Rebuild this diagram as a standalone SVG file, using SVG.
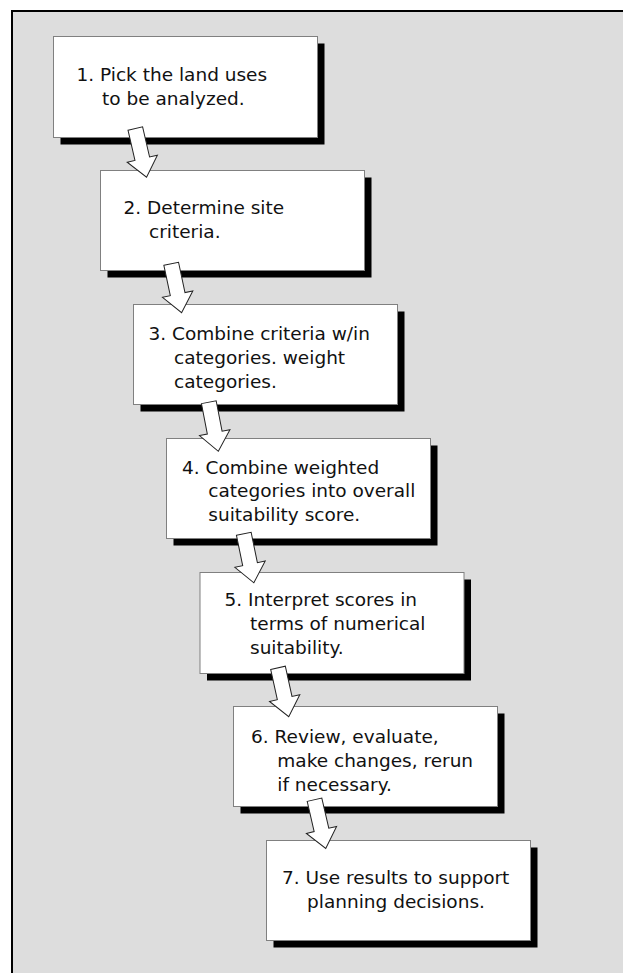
<svg xmlns="http://www.w3.org/2000/svg" width="623" height="973" viewBox="0 0 623 973">
<style>
.box{fill:#ffffff;stroke:#808080;stroke-width:1}
.shadow{fill:#000000}
.t{font-family:"DejaVu Sans","Verdana",sans-serif;font-size:18.5px;fill:#111111}
.arrow{fill:#ffffff;stroke:#222222;stroke-width:1;stroke-linejoin:miter}
</style>
<defs>
<path id="arr" d="M-7.5,0 L7.5,0 L7.5,31 L15.5,31 L0,50 L-15.5,31 L-7.5,31 Z"/>
</defs>
<rect x="0" y="0" width="623" height="973" fill="#ffffff"/>
<rect x="12" y="11" width="700" height="1000" fill="#dddddd" stroke="#000000" stroke-width="2"/>
<g id="nodes">
<g id="step1">
<rect class="shadow" x="60.5" y="43.5" width="264" height="101"/>
<rect class="box" x="53.5" y="36.5" width="264" height="101"/>
<text class="t"><tspan x="76.5" y="81">1. Pick the land uses</tspan><tspan x="102" y="104.5">to be analyzed.</tspan></text>
</g>
<g id="step2">
<rect class="shadow" x="107.5" y="177.5" width="264" height="100"/>
<rect class="box" x="100.5" y="170.5" width="264" height="100"/>
<text class="t"><tspan x="123.5" y="214">2. Determine site</tspan><tspan x="149" y="237.5">criteria.</tspan></text>
</g>
<g id="step3">
<rect class="shadow" x="140.5" y="311.5" width="264" height="100"/>
<rect class="box" x="133.5" y="304.5" width="264" height="100"/>
<text class="t"><tspan x="148.5" y="340">3. Combine criteria w/in</tspan><tspan x="174" y="364">categories. weight</tspan><tspan x="174" y="387.5">categories.</tspan></text>
</g>
<g id="step4">
<rect class="shadow" x="173.5" y="445.5" width="264" height="100"/>
<rect class="box" x="166.5" y="438.5" width="264" height="100"/>
<text class="t"><tspan x="182" y="473.5">4. Combine weighted</tspan><tspan x="208.3" y="497">categories into overall</tspan><tspan x="208.3" y="520.5">suitability score.</tspan></text>
</g>
<g id="step5">
<rect class="shadow" x="207" y="579.5" width="264" height="101"/>
<rect class="box" x="200" y="572.5" width="264" height="101"/>
<text class="t"><tspan x="224.5" y="606">5. Interpret scores in</tspan><tspan x="250" y="630">terms of numerical</tspan><tspan x="250" y="654">suitability.</tspan></text>
</g>
<g id="step6">
<rect class="shadow" x="240.5" y="713.5" width="264" height="100"/>
<rect class="box" x="233.5" y="706.5" width="264" height="100"/>
<text class="t"><tspan x="251" y="742.5">6. Review, evaluate,</tspan><tspan x="277.3" y="766.5">make changes, rerun</tspan><tspan x="277.3" y="790.5">if necessary.</tspan></text>
</g>
<g id="step7">
<rect class="shadow" x="273.5" y="847.5" width="264" height="100"/>
<rect class="box" x="266.5" y="840.5" width="264" height="100"/>
<text class="t"><tspan x="282" y="884">7. Use results to support</tspan><tspan x="307" y="907.5">planning decisions.</tspan></text>
</g>
</g>
<g id="connectors">
<use href="#arr" class="arrow" transform="translate(135.3,128.5) rotate(-13)"/>
<use href="#arr" class="arrow" transform="translate(171.2,263.8) rotate(-12)"/>
<use href="#arr" class="arrow" transform="translate(208.8,402.2) rotate(-11)"/>
<use href="#arr" class="arrow" transform="translate(243.8,533.8) rotate(-11.6)"/>
<use href="#arr" class="arrow" transform="translate(278,667.8) rotate(-12.4)"/>
<use href="#arr" class="arrow" transform="translate(314.5,799.7) rotate(-13)"/>
</g>
</svg>
